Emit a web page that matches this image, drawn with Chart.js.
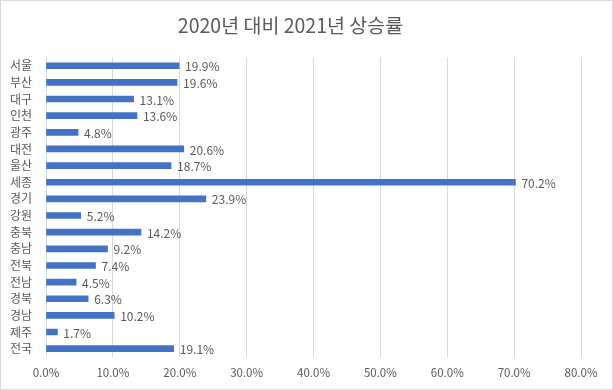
<!DOCTYPE html>
<html><head><meta charset="utf-8">
<script src="https://cdn.jsdelivr.net/npm/chart.js@4/dist/chart.umd.min.js"></script>
<style>html,body{margin:0;padding:0;background:#fff}#wrap{width:613px;height:390px;position:relative}</style>
</head><body><div id="wrap"><canvas id="c" width="613" height="390"></canvas></div>
<script>
const categories = ["서울","부산","대구","인천","광주","대전","울산","세종","경기","강원","충북","충남","전북","전남","경북","경남","제주","전국"];
const values = [19.9,19.6,13.1,13.6,4.8,20.6,18.7,70.2,23.9,5.2,14.2,9.2,7.4,4.5,6.3,10.2,1.7,19.1];
const title = "2020년 대비 2021년 상승률";
const xMin = 0, xMax = 80, xStep = 10;

const FONT = "'Noto Sans CJK KR','Noto Sans',sans-serif";
const GREY = '#595959';

const borderPlugin = {
  id: 'border',
  beforeDraw(chart) {
    const ctx = chart.ctx;
    ctx.save();
    ctx.fillStyle = '#fff';
    ctx.fillRect(0, 0, chart.width, chart.height);
    ctx.strokeStyle = '#d9d9d9';
    ctx.lineWidth = 1;
    ctx.strokeRect(0.5, 0.5, chart.width - 1, chart.height - 1);
    ctx.restore();
  }
};
const labelPlugin = {
  id: 'barLabels',
  afterDatasetsDraw(chart) {
    const ctx = chart.ctx;
    const meta = chart.getDatasetMeta(0);
    ctx.save();
    ctx.font = '12px ' + FONT;
    ctx.fillStyle = GREY;
    ctx.textBaseline = 'middle';
    ctx.textAlign = 'left';
    meta.data.forEach((bar, i) => {
      ctx.fillText(values[i].toFixed(1) + '%', bar.x + 6, bar.y + 1);
    });
    ctx.restore();
  }
};

new Chart(document.getElementById('c'), {
  type: 'bar',
  data: {
    labels: categories,
    datasets: [{ data: values, backgroundColor: '#4472C4', barThickness: 6 }]
  },
  options: {
    indexAxis: 'y',
    responsive: false,
    animation: false,
    layout: { padding: { left: 0, right: 32, top: 0, bottom: 0 } },
    plugins: {
      legend: { display: false },
      tooltip: { enabled: false },
      title: {
        display: true, text: title, color: GREY,
        font: { family: FONT, size: 19.5, weight: 'normal' },
        padding: { top: 14, bottom: 20 }
      }
    },
    scales: {
      x: {
        min: xMin, max: xMax,
        grid: { color: '#d9d9d9', drawTicks: false },
        border: { display: false },
        afterFit(s) { s.height = 33; },
        ticks: {
          stepSize: xStep, padding: 9, color: GREY,
          font: { family: FONT, size: 11.5 },
          callback: v => Number(v).toFixed(1) + '%'
        }
      },
      y: {
        grid: { display: false, drawTicks: false },
        border: { display: false },
        afterFit(s) { s.width = 46; },
        ticks: { padding: 14, color: GREY, font: { family: FONT, size: 12 }, autoSkip: false }
      }
    }
  },
  plugins: [borderPlugin, labelPlugin]
});
</script></body></html>
